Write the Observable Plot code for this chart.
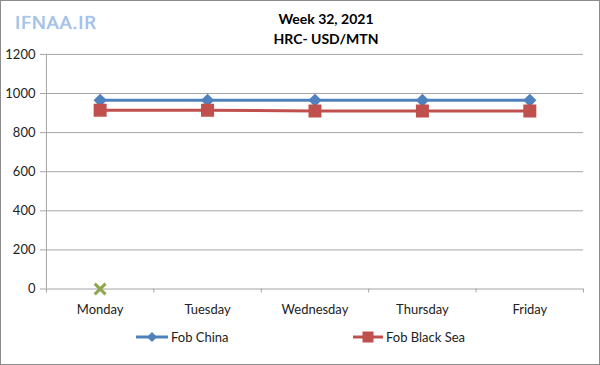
<!DOCTYPE html>
<html>
<head>
<meta charset="utf-8">
<script src="https://cdn.jsdelivr.net/npm/d3@7"></script>
<script src="https://cdn.jsdelivr.net/npm/@observablehq/plot@0.6"></script>
<style>
  html, body { margin: 0; padding: 0; background: #fff; }
  #wrap { position: relative; width: 600px; height: 365px; box-sizing: border-box; border: 1px solid #8c8c8c; overflow: hidden; font-family: Lato, "Open Sans", sans-serif; }
  #chart { position: absolute; left: -1px; top: -1px; }
  #title { position: absolute; left: 200px; width: 250px; top: 8px; text-align: center; font-weight: bold; font-size: 14px; line-height: 20px; color: #000; }
  #wm { position: absolute; left: 14px; top: 8px; font-size: 19px; color: #a7c4ea; letter-spacing: 0.8px; text-shadow: 0 0 1px #7fa3d3; font-family: "Open Sans", sans-serif; }
  #legend { position: absolute; top: 328px; left: 0; width: 600px; font-size: 13px; color: #222; }
  .li { position: absolute; display: flex; align-items: center; }
  .li svg { margin-right: 3px; }
</style>
</head>
<body>
<div id="wrap">
  <div id="chart"></div>
  <div id="wm">IFNAA.IR</div>
  <div id="title">Week 32, 2021<br>HRC- USD/MTN</div>
  <div id="legend"></div>
</div>
<script>
const days = ["Monday", "Tuesday", "Wednesday", "Thursday", "Friday"];
const fobChina = [965, 965, 965, 965, 965];
const fobBlackSea = [915, 915, 910, 910, 910];
const thirdSeries = [0];
const yTicks = [0, 200, 400, 600, 800, 1000, 1200];
const seriesNames = ["Fob China", "Fob Black Sea"];
const colors = ["#4F81BD", "#C0504D", "#8FA84E"];

const rows = (vals) => vals.map((v, i) => ({x: i + 0.5, y: v}));
const china = rows(fobChina);
const black = rows(fobBlackSea);
const third = rows(thirdSeries);
const boundaries = d3.range(days.length + 1);
const centers = days.map((d, i) => i + 0.5);

const plot = Plot.plot({
  width: 600,
  height: 365,
  marginLeft: 46,
  marginRight: 16,
  marginTop: 54,
  marginBottom: 76,
  style: {fontFamily: "Lato, 'Open Sans', sans-serif", fontSize: "13px", color: "#222", background: "transparent"},
  x: {type: "linear", domain: [0, days.length]},
  y: {domain: [0, 1200]},
  marks: [
    Plot.gridY(yTicks, {stroke: "#a6a6a6", strokeOpacity: 1}),
    Plot.ruleX([0], {stroke: "#a6a6a6"}),
    Plot.axisY(yTicks, {tickSize: 6, tickPadding: 5, tickFormat: (d) => String(d), stroke: "#a6a6a6", fill: "#222", fontSize: 13, label: null}),
    Plot.axisX(boundaries, {tickSize: 4, tickFormat: () => "", stroke: "#a6a6a6", label: null}),
    Plot.axisX(centers, {tickSize: 0, tickPadding: 16, tickFormat: (d) => days[Math.round(d - 0.5)], fill: "#222", fontSize: 13, label: null}),
    Plot.line(china, {x: "x", y: "y", stroke: colors[0], strokeWidth: 3}),
    Plot.line(black, {x: "x", y: "y", stroke: colors[1], strokeWidth: 3}),
    Plot.dot(china, {x: "x", y: "y", symbol: "diamond2", r: 5, fill: colors[0], stroke: colors[0]}),
    Plot.dot(black, {x: "x", y: "y", symbol: "square", r: 6.5, fill: colors[1], stroke: colors[1]}),
    Plot.dot(third, {x: "x", y: "y", symbol: "times", r: 5, stroke: colors[2], strokeWidth: 3})
  ]
});
document.getElementById("chart").appendChild(plot);

// legend
const legend = document.getElementById("legend");
const legendPos = [135, 352];
const markerSvg = [
  '<svg width="32" height="12"><line x1="0" y1="6" x2="32" y2="6" stroke="' + colors[0] + '" stroke-width="3"/><path d="M16,1 L21,6 L16,11 L11,6 Z" fill="' + colors[0] + '"/></svg>',
  '<svg width="30" height="12"><line x1="0" y1="6" x2="30" y2="6" stroke="' + colors[1] + '" stroke-width="3"/><rect x="9.5" y="0.5" width="11" height="11" fill="' + colors[1] + '"/></svg>'
];
seriesNames.forEach((n, i) => {
  const d = document.createElement("div");
  d.className = "li";
  d.style.left = legendPos[i] + "px";
  d.innerHTML = markerSvg[i] + "<span>" + n + "</span>";
  legend.appendChild(d);
});
</script>
</body>
</html>
